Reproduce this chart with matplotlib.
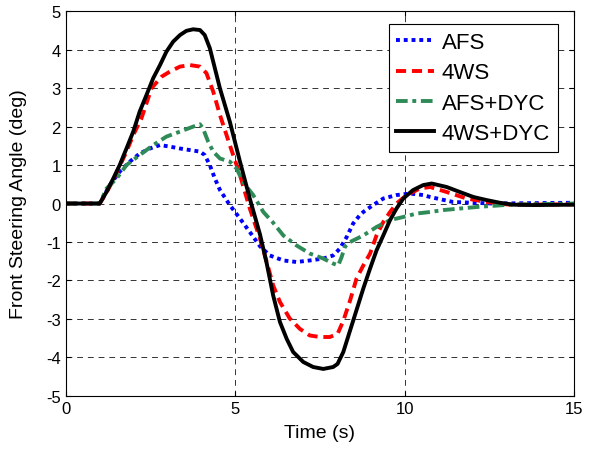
import matplotlib.pyplot as plt

plt.rcParams['font.family'] = ['Liberation Sans', 'DejaVu Sans']
plt.rcParams['axes.unicode_minus'] = False

# AFS
t_afs = [0, 1.0, 1.3, 1.59, 1.89, 2.18, 2.48, 2.78, 3.07, 3.37, 3.66, 3.96, 4.1, 4.25, 4.4,
         4.55, 4.84, 5.14, 5.43, 5.73, 6.02, 6.42, 6.81, 7.2, 7.6, 7.89, 8.09, 8.29, 8.48,
         8.68, 8.78, 9.07, 9.37, 9.76, 10.16, 10.55, 10.75, 11.43, 12.6, 15]
y_afs = [0, 0, 0.48, 0.83, 1.09, 1.3, 1.43, 1.52, 1.48, 1.43, 1.39, 1.35, 1.26, 1.0, 0.65,
         0.35, -0.04, -0.39, -0.74, -1.11, -1.35, -1.48, -1.52, -1.48, -1.43, -1.35, -1.17, -0.87, -0.52,
         -0.3, -0.22, -0.04, 0.13, 0.22, 0.26, 0.22, 0.17, 0.04, 0.0, 0.02]

# 4WS
t_4ws = [0, 1.0, 1.2, 1.4, 1.59, 1.79, 1.99, 2.23, 2.53, 2.83, 3.07, 3.37, 3.66, 3.96, 4.15,
         4.35, 4.55, 4.84, 5.14, 5.43, 5.73, 5.93, 6.12, 6.32, 6.61, 6.91, 7.2, 7.5, 7.79,
         8.02, 8.19, 8.39, 8.58, 8.78, 8.98, 9.17, 9.37, 9.57, 9.76, 10.06, 10.45, 10.75,
         11.24, 11.83, 12.42, 13.1, 15]
y_4ws = [0, 0, 0.28, 0.62, 0.97, 1.35, 1.78, 2.21, 3.0, 3.3, 3.43, 3.56, 3.6, 3.56, 3.39,
         2.91, 2.3, 1.52, 0.74, -0.13, -0.91, -1.52, -2.13, -2.56, -2.99, -3.26, -3.43, -3.47, -3.47,
         -3.39, -3.05, -2.52, -1.95, -1.61, -1.3, -0.83, -0.48, -0.22, 0.0, 0.22, 0.39, 0.43,
         0.3, 0.13, 0.04, -0.03, -0.02]

# AFS+DYC
t_afsdyc = [0, 1.0, 1.2, 1.5, 1.79, 2.18, 2.58, 2.97, 3.37, 3.76, 3.96, 4.05, 4.2, 4.35,
            4.55, 4.84, 5.04, 5.23, 5.53, 5.83, 6.12, 6.42, 6.81, 7.2, 7.6, 7.89, 8.04,
            8.14, 8.24, 8.39, 8.78, 9.17, 9.57, 9.96, 10.35, 10.75, 11.14, 12.13, 13.1, 15]
y_afsdyc = [0, 0, 0.39, 0.65, 1.0, 1.26, 1.52, 1.74, 1.87, 2.0, 2.06, 1.95, 1.61, 1.35,
            1.17, 1.09, 0.91, 0.56, 0.22, -0.22, -0.5, -0.83, -1.09, -1.3, -1.43, -1.56, -1.61,
            -1.39, -1.12, -1.0, -0.83, -0.61, -0.43, -0.35, -0.26, -0.22, -0.17, -0.09, -0.03, 0.0]

# 4WS+DYC
t_4wsdyc = [0, 1.0, 1.2, 1.4, 1.59, 1.79, 1.99, 2.18, 2.38, 2.58, 2.78, 2.97, 3.17, 3.37,
            3.56, 3.76, 3.96, 4.1, 4.25, 4.45, 4.55, 4.84, 5.14, 5.43, 5.73, 5.93, 6.12,
            6.32, 6.52, 6.71, 7.01, 7.3, 7.6, 7.89, 8.02, 8.19, 8.39, 8.58, 8.78, 8.98, 9.17,
            9.37, 9.57, 9.76, 9.96, 10.25, 10.55, 10.8, 11.24, 11.63, 12.03, 12.42, 12.81,
            13.21, 13.8, 15]
y_4wsdyc = [0, 0.0, 0.3, 0.65, 1.0, 1.43, 1.87, 2.39, 2.82, 3.26, 3.6, 3.95, 4.21, 4.38,
            4.49, 4.53, 4.51, 4.38, 4.04, 3.34, 2.99, 2.13, 1.09, 0.13, -0.8, -1.56, -2.39,
            -3.08, -3.52, -3.86, -4.12, -4.25, -4.3, -4.25, -4.17, -3.86, -3.3, -2.77, -2.21, -1.69, -1.22,
            -0.83, -0.43, -0.13, 0.13, 0.35, 0.48, 0.52, 0.43, 0.3, 0.17, 0.09, 0.02,
            -0.03, -0.04, -0.03]

fig = plt.figure(figsize=(5.93, 4.52), dpi=100)
ax = fig.add_axes([0.111, 0.122, 0.857, 0.851])

ax.plot(t_afs, y_afs, color='#0000ff', lw=2.8, linestyle=(0, (1, 1)), label='AFS')
ax.plot(t_4ws, y_4ws, color='#ff0000', lw=2.8, linestyle=(0, (2.6, 1.5)), label='4WS')
ax.plot(t_afsdyc, y_afsdyc, color='#2e8b57', lw=2.8, linestyle=(0, (3, 1.2, 1, 1.2)), label='AFS+DYC')
ax.plot(t_4wsdyc, y_4wsdyc, color='black', lw=2.8, linestyle='-', label='4WS+DYC')

ax.set_xlim(0, 15)
ax.set_ylim(-5, 5)
ax.set_xticks([0, 5, 10, 15])
ax.set_yticks(range(-5, 6))
ax.grid(True, color='#333333', linestyle=(0, (6, 5)), linewidth=0.7)
ax.tick_params(direction='in', top=True, right=True, labelsize=12)

ax.set_xlabel('Time (s)', fontsize=14, labelpad=6)
ax.set_ylabel('Front Steering Angle (deg)', fontsize=14, labelpad=14)

leg = ax.legend(loc='upper right', fontsize=16, fancybox=False, framealpha=1,
                edgecolor='black', handlelength=1.7, handletextpad=0.35, borderpad=0.35,
                labelspacing=0.42, borderaxespad=0, bbox_to_anchor=(0.9685, 0.966))
leg.get_frame().set_linewidth(0.8)

fig.savefig('out.png', dpi=100)
